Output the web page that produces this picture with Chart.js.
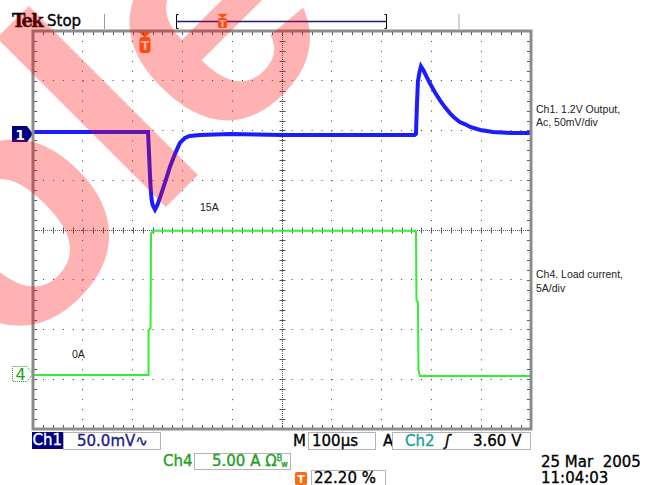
<!DOCTYPE html>
<html>
<head>
<meta charset="utf-8">
<script src="https://cdn.jsdelivr.net/npm/chart.js@4.4.1/dist/chart.umd.min.js"></script>
<style>
  html, body { margin: 0; padding: 0; background: #fff; }
  #wrap { position: relative; width: 659px; height: 485px; overflow: hidden; font-family: "DejaVu Sans", sans-serif; }
  #scope { position: absolute; left: 0; top: 0; z-index: 2; }
  .t { position: absolute; white-space: pre; font-size: 15px; line-height: 17px; color: #000; -webkit-text-stroke: 0.35px currentColor; }
  .note { position: absolute; white-space: pre; font-family: "Liberation Sans", Arial, sans-serif; font-size: 10.5px; color: #222; }
  .box { position: absolute; border: 1px solid #b4b4b4; box-sizing: border-box; background: #fff; }
  svg { position: absolute; overflow: visible; }
</style>
</head>
<body>
<div id="wrap">
  <!-- top status line -->
  <div class="t" style="left:12px;top:10px;font:bold 18px 'DejaVu Serif',serif;letter-spacing:-1.8px;">Tek</div>
  <div class="t" style="left:47px;top:13px;">Stop</div>
  <svg style="left:0;top:0" width="659" height="40">
    <line x1="104.5" y1="14" x2="104.5" y2="29" stroke="#999" stroke-width="1"/>
    <line x1="459" y1="14" x2="459" y2="29" stroke="#d4d4d4" stroke-width="2"/>
    <line x1="176" y1="21.5" x2="387" y2="21.5" stroke="#1c1c80" stroke-width="1.5"/>
    <path d="M178.5 14.5 H176.5 V28.5 H178.5" fill="none" stroke="#000" stroke-width="1"/>
    <path d="M384.5 14.5 H386.5 V28.5 H384.5" fill="none" stroke="#000" stroke-width="1"/>
    <polygon points="217.5,14 227.5,14 222.5,18" fill="#ff6a10"/>
    <rect x="218" y="18" width="9" height="10" rx="2" fill="#ff6a10"/>
    <text x="222.5" y="26.5" fill="#fff" font-family="DejaVu Sans" font-weight="bold" font-size="9" text-anchor="middle">T</text>
    <!-- trigger position marker on graticule -->
    <polygon points="138.5,32 151,32 144.8,37.5" fill="#ff6a10"/>
    <rect x="139.5" y="37" width="11" height="16" rx="3" fill="#ff6a10"/>
    <text x="145" y="50" fill="#fff" font-family="DejaVu Sans" font-weight="bold" font-size="12" text-anchor="middle">T</text>
  </svg>

  <!-- channel ground markers -->
  <svg style="left:12px;top:126px" width="22" height="17">
    <polygon points="0,0 15,0 21,8 15,16 0,16" fill="#000080"/>
    <text x="8" y="13.5" fill="#fff" font-family="DejaVu Sans" font-weight="bold" font-size="14" text-anchor="middle">1</text>
  </svg>
  <svg style="left:12px;top:366px" width="22" height="17">
    <polygon points="0.5,0.5 15,0.5 20.5,8 15,15.5 0.5,15.5" fill="#fff" stroke="#22a022" stroke-width="1" stroke-dasharray="1,1"/>
    <text x="8.5" y="14" fill="#22a022" font-family="DejaVu Sans" font-size="16" text-anchor="middle">4</text>
  </svg>

  <!-- annotations -->
  <div class="note" style="left:536px;top:103px;line-height:13px;">Ch1. 1.2V Output,
Ac, 50mV/div</div>
  <div class="note" style="left:536px;top:268px;line-height:13.5px;">Ch4. Load current,
5A/div</div>
  <div class="note" style="left:200px;top:202px;line-height:11px;">15A</div>
  <div class="note" style="left:72px;top:349px;line-height:11px;">0A</div>

  <!-- bottom readouts -->
  <div class="box" style="left:32px;top:432px;width:31px;height:17px;background:#000080;border-color:#000080;"></div>
  <div class="t" style="left:32.5px;top:432px;color:#fff;">Ch1</div>
  <div class="box" style="left:63px;top:432px;width:98px;height:18px;"></div>
  <div class="t" style="left:77px;top:433px;color:#1c1c8c;">50.0mV∿</div>

  <div class="t" style="left:293px;top:433px;">M</div>
  <div class="box" style="left:308px;top:432px;width:68px;height:18px;"></div>
  <div class="t" style="left:312px;top:433px;">100µs</div>
  <div class="t" style="left:383px;top:433px;">A</div>
  <div class="box" style="left:392px;top:432px;width:139px;height:18px;"></div>
  <div class="t" style="left:405px;top:433px;color:#1aa0a0;">Ch2</div>
  <div class="t" style="left:445px;top:433px;font-style:italic;">ʃ</div>
  <div class="t" style="left:473px;top:433px;">3.60 V</div>

  <div class="t" style="left:163px;top:453px;color:#22a022;">Ch4</div>
  <div class="box" style="left:194px;top:453px;width:97px;height:17px;"></div>
  <div class="t" style="left:212px;top:453px;color:#22a022;">5.00 A Ω<span style="font-size:8px;position:relative;top:-5px;">B</span><span style="font-size:8px;position:relative;top:1px;left:-1px;">w</span></div>

  <svg style="left:295px;top:472px" width="13" height="13">
    <rect x="0" y="0" width="12" height="13" rx="2" fill="#ff6a10"/>
    <text x="6" y="11" fill="#fff" font-family="DejaVu Sans" font-weight="bold" font-size="11" text-anchor="middle">T</text>
  </svg>
  <div class="box" style="left:311px;top:470px;width:75px;height:18px;"></div>
  <div class="t" style="left:314px;top:470px;">22.20 %</div>

  <div class="t" style="left:541px;top:454px;">25 Mar  2005</div>
  <div class="t" style="left:541px;top:470px;">11:04:03</div>

  <canvas id="scope" width="659" height="485"></canvas>
</div>

<script>
"use strict";

// ── Data (time in µs, 100 µs/div) ─────────────────────────────────────────────
const ch1Time = [0, 231, 233, 236, 238, 240, 245, 250, 255, 265, 275, 286, 295, 305, 315, 335, 396,
                 500, 600, 700, 766, 769, 771, 773, 776, 779, 784, 790, 797, 807, 817, 827, 837,
                 847, 857, 867, 878, 898, 924, 960, 1000];
const ch1MilliVolts = [2, 2, -20, -53, -65, -71, -76, -71, -64, -49, -33, -19, -9, -4, -2, -1, 0,
                       -1, -1, -1, -1, 0, 30, 53, 62, 68, 64, 58, 51, 42, 34, 27, 21,
                       16, 12, 10, 7, 4, 2, 1, 1];

const ch4Time = [0, 231, 232, 236, 237, 241, 500, 767, 769, 770, 773, 774, 777, 1000];
const ch4Amps = [0, 0, 4.5, 4.7, 14.2, 14.5, 14.5, 14.5, 14.4, 7.5, 7.3, 0.5, -0.1, -0.1];

// channel scale and ground marker position, in graticule divisions
const CH1_MV_PER_DIV = 50;
const CH1_OFFSET     = 1.93;
const CH4_A_PER_DIV  = 5;
const CH4_OFFSET     = -2.915;

const ch1Points = ch1Time.map((t, i) => ({ x: t, y: CH1_OFFSET + ch1MilliVolts[i] / CH1_MV_PER_DIV }));
const ch4Points = ch4Time.map((t, i) => ({ x: t, y: CH4_OFFSET + ch4Amps[i] / CH4_A_PER_DIV }));

// ── Graticule decorations ─────────────────────────────────────────────────────
const graticule = {
  id: "graticule",
  beforeDatasetsDraw(chart) {
    const { ctx, chartArea: a, scales: { x, y } } = chart;
    const cx = Math.round(x.getPixelForValue(500)) + 0.5;
    const cy = Math.round(y.getPixelForValue(0)) + 0.5;
    ctx.save();
    ctx.strokeStyle = "#555";
    ctx.lineWidth = 1;

    // centre cross, finely dotted
    ctx.setLineDash([1, 1]);
    ctx.beginPath();
    ctx.moveTo(a.left, cy); ctx.lineTo(a.right, cy);
    ctx.moveTo(cx, a.top);  ctx.lineTo(cx, a.bottom);
    ctx.stroke();
    ctx.setLineDash([]);

    // minor ticks, every 0.2 div
    ctx.beginPath();
    for (let v = 0; v <= 1000; v += 20) {
      const px = Math.round(x.getPixelForValue(v)) + 0.5;
      ctx.moveTo(px, cy - 3); ctx.lineTo(px, cy + 3);
      ctx.moveTo(px, a.top);  ctx.lineTo(px, a.top + 4);
      ctx.moveTo(px, a.bottom); ctx.lineTo(px, a.bottom - 4);
    }
    for (let v = -4; v <= 4.001; v += 0.2) {
      const py = Math.round(y.getPixelForValue(v)) + 0.5;
      ctx.moveTo(cx - 3, py); ctx.lineTo(cx + 3, py);
      ctx.moveTo(a.left, py); ctx.lineTo(a.left + 4, py);
      ctx.moveTo(a.right, py); ctx.lineTo(a.right - 4, py);
    }
    ctx.stroke();
    ctx.restore();
  },
  afterDatasetsDraw(chart) {
    const { ctx, chartArea: a } = chart;
    ctx.save();
    ctx.strokeStyle = "#8c8c8c";
    ctx.lineWidth = 3;
    ctx.strokeRect(a.left, a.top, a.right - a.left, a.bottom - a.top);
    ctx.restore();
  },
};

// translucent red stamp over the whole screenshot
const stamp = {
  id: "stamp",
  afterDraw(chart) {
    const ctx = chart.ctx;
    ctx.save();
    ctx.font = 'bold 330px "Liberation Sans", Arial, sans-serif';
    ctx.fillStyle = "rgba(255, 0, 0, 0.3)";
    ctx.textBaseline = "alphabetic";
    ctx.translate(182, 191);
    ctx.rotate(-Math.PI / 4);
    const pre = ctx.measureText("Obso").width;
    const l   = ctx.measureText("l").width;
    ctx.fillText("Obsolete", -pre - l / 2, 0);
    ctx.restore();
  },
};

// ── Chart ─────────────────────────────────────────────────────────────────────
const gridDash = [1, 8.95];

new Chart(document.getElementById("scope").getContext("2d"), {
  type: "line",
  data: {
    datasets: [
      {
        label: "Ch4",
        data: ch4Points,
        borderColor: "#33ee33",
        borderWidth: 2,
        pointRadius: 0,
        tension: 0,
      },
      {
        label: "Ch1",
        data: ch1Points,
        borderColor: "#1c1cff",
        borderWidth: 4,
        pointRadius: 0,
        tension: 0,
      },
    ],
  },
  options: {
    responsive: false,
    animation: false,
    devicePixelRatio: 1,
    layout: { padding: { left: 33, top: 31, right: 128, bottom: 56 } },
    plugins: { legend: { display: false }, tooltip: { enabled: false } },
    scales: {
      x: {
        type: "linear",
        min: 0,
        max: 1000,
        ticks: { display: false, stepSize: 100 },
        grid: { color: "#444", drawTicks: false },
        border: { display: false, dash: gridDash },
        afterFit(s) { s.height = 0; },
      },
      y: {
        type: "linear",
        min: -4,
        max: 4,
        ticks: { display: false, stepSize: 1 },
        grid: { color: "#444", drawTicks: false },
        border: { display: false, dash: gridDash },
        afterFit(s) { s.width = 0; },
      },
    },
  },
  plugins: [graticule, stamp],
});
</script>
</body>
</html>
